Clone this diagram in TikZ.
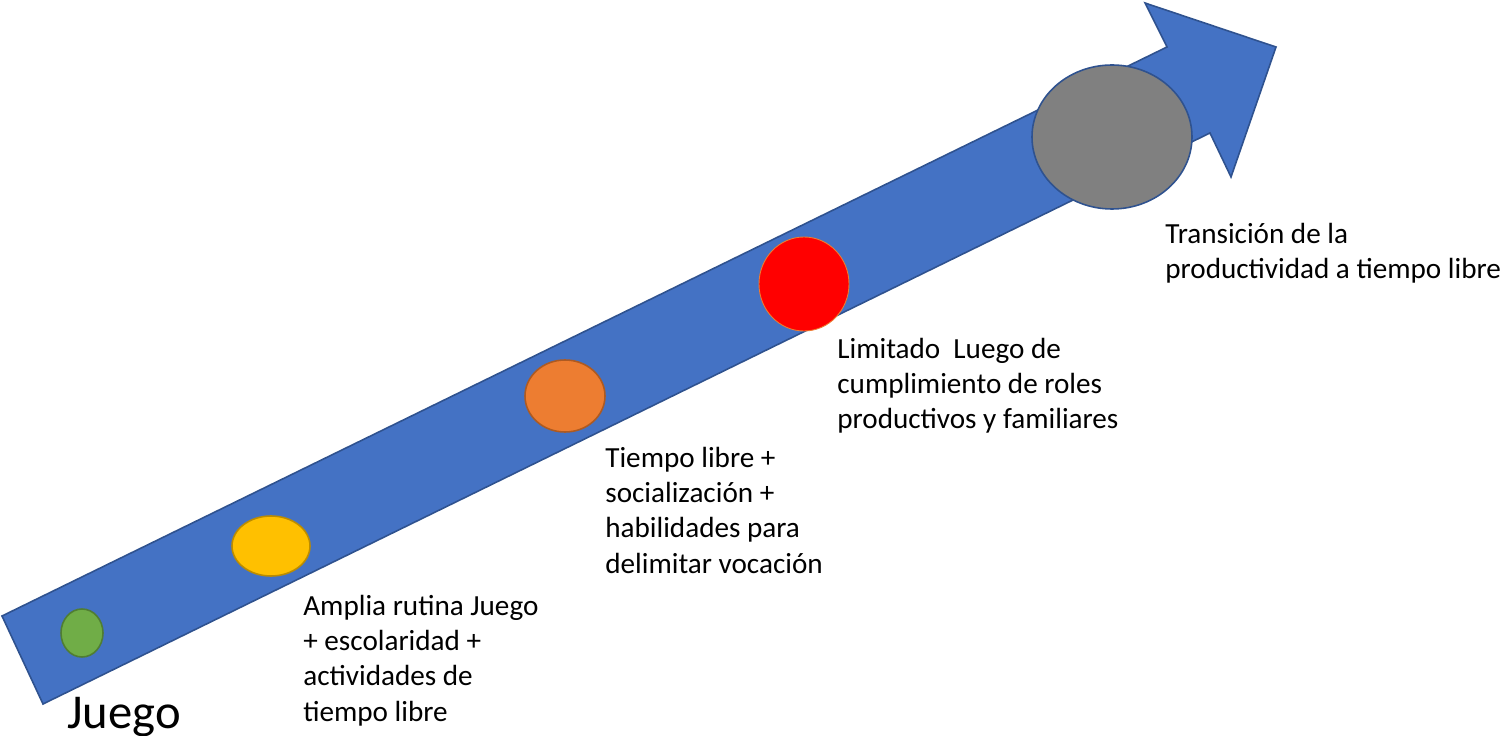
\documentclass[tikz,border=0pt]{standalone}
\usepackage{fontspec}
\setmainfont{Carlito}
\definecolor{Flecha}{RGB}{68, 114, 196}
\definecolor{Borde}{RGB}{47, 82, 143}
\definecolor{V}{RGB}{112, 173, 71}
\definecolor{VB}{RGB}{80, 126, 50}
\definecolor{Am}{RGB}{255, 192, 0}
\definecolor{AmB}{RGB}{188, 140, 0}
\definecolor{N}{RGB}{237, 125, 49}
\definecolor{NB}{RGB}{174, 90, 33}
\definecolor{Gr}{RGB}{128, 128, 128}

\begin{document}
\begin{tikzpicture}[x=0.02cm, y=-0.02cm,
   texto/.style={anchor=north west, align=left, inner sep=0pt,
      font=\fontsize{16.6}{20}\selectfont}]
   \useasboundingbox (0,0) rectangle (1502,736);
   % flecha
   \draw[Borde, fill=Flecha, line width=0.9pt, line join=miter]
      (2,616) -- (1167,47) -- (1145,3) -- (1276,47) -- (1231,177)
      -- (1210,133) -- (43,704) -- cycle;
   % etapas
   \draw[VB, fill=V, line width=0.9pt] (82,633) ellipse [x radius=21, y radius=24];
   \draw[AmB, fill=Am, line width=0.9pt] (271,546) ellipse [x radius=39, y radius=30];
   \draw[NB, fill=N, line width=0.9pt] (565,396) ellipse [x radius=40, y radius=36];
   \draw[N, fill=red, line width=0.5pt] (804,284) ellipse [x radius=45, y radius=47];
   \draw[Borde, fill=Gr, line width=0.9pt] (1112,137) ellipse [x radius=80, y radius=72];
   % textos
   \node[texto, font=\fontsize{27.7}{32}\selectfont] (juego) at (67,697) {Juego};
   \node[texto] (amplia) at (303,595) {Amplia rutina Juego\\+ escolaridad +\\actividades de\\tiempo libre};
   \node[texto] (tiempo) at (605,447) {Tiempo libre +\\socialización +\\habilidades para\\delimitar vocación};
   \node[texto] (limitado) at (837,338) {Limitado\ \ Luego de\\cumplimiento de roles\\productivos y familiares};
   \node[texto] (transicion) at (1165,223) {Transición de la\\productividad a tiempo libre};
\end{tikzpicture}
\end{document}
